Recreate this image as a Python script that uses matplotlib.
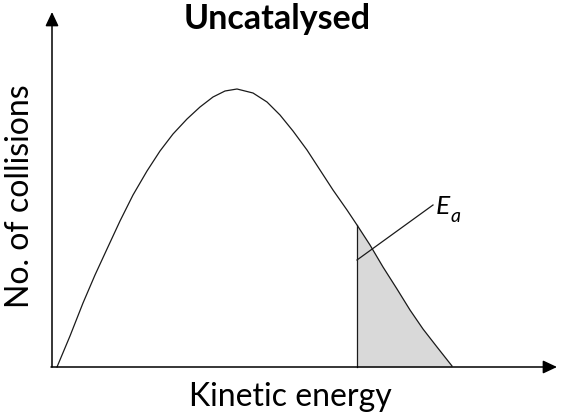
import matplotlib
matplotlib.use('Agg')
import matplotlib.pyplot as plt

energy = [57, 70, 83, 95, 107, 120, 133, 147, 160, 173, 187, 200, 213, 225, 237,
          253, 267, 280, 293, 307, 320, 333, 347, 357, 370, 383, 397, 410, 423,
          437, 452]
collisions = [367, 336, 303, 275, 249, 221, 195, 171, 151, 134, 119, 107, 97, 91, 89,
              93, 102, 115, 131, 150, 170, 190, 210, 225, 245, 267, 289, 310, 329,
              347, 366]
ea_index = 23          # first point of the shaded tail (E_a)
baseline = 367

title = 'Uncatalysed'
xlabel = 'Kinetic energy'
ylabel = 'No. of collisions'

fig = plt.figure(figsize=(5.62, 4.17), dpi=100)
ax = fig.add_axes([0, 0, 1, 1])
ax.set_xlim(0, 562)
ax.set_ylim(417, 0)
ax.axis('off')

# shaded tail beyond E_a
ax.fill_between(energy[ea_index:], collisions[ea_index:], baseline,
                color='#d9d9d9', lw=0)
ax.plot(energy, collisions, color='#1a1a1a', lw=0.9, solid_joinstyle='round')
ax.plot([energy[ea_index], energy[ea_index]], [baseline, collisions[ea_index]],
        color='#1a1a1a', lw=0.9)

# axes with arrows
arr = dict(arrowstyle='-|>,head_length=0.85,head_width=0.4', color='black',
           lw=1.1, shrinkA=0, shrinkB=0)
ax.annotate('', xy=(52, 12), xytext=(52, baseline), arrowprops=arr)
ax.annotate('', xy=(557, baseline), xytext=(51, baseline), arrowprops=arr)

# E_a label with pointer
ax.plot([energy[ea_index], 433], [260, 205], color='#1a1a1a', lw=0.9)
ax.text(436, 214, 'E', fontsize=19, family='Lato', style='italic', ha='left', va='baseline')
ax.text(451, 222, 'a', fontsize=14, family='Lato', style='italic', ha='left', va='baseline')

ax.text(277, 19, title, fontsize=24.5, family='Lato', weight='bold', ha='center', va='center')
ax.text(290, 397, xlabel, fontsize=23, family='Lato', ha='center', va='center')
ax.text(20, 196, ylabel, fontsize=23, family='Lato', rotation=90, ha='center', va='center')

fig.savefig('out.png', dpi=100)
